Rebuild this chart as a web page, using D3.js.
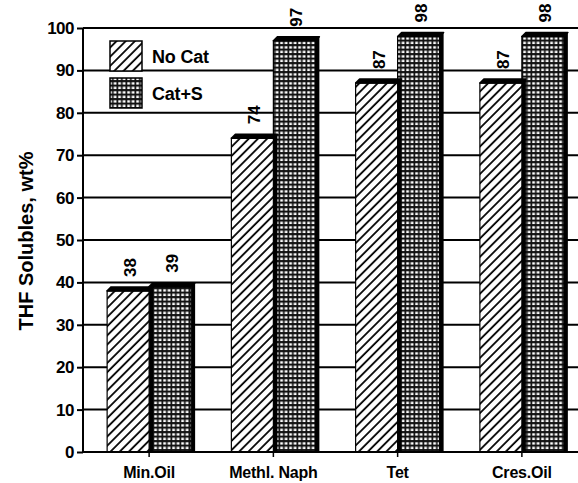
<!DOCTYPE html>
<html><head><meta charset="utf-8">
<script src="https://cdn.jsdelivr.net/npm/d3@7"></script>
<style>body{margin:0;background:#fff}svg{display:block}text{font-family:"Liberation Sans",Arial,sans-serif;font-weight:bold;fill:#000}</style>
</head><body><svg id="c" width="578" height="483"></svg>
<script>
const categories = ["Min.Oil", "Methl. Naph", "Tet", "Cres.Oil"];
const series = ["No Cat", "Cat+S"];
const noCat = [38, 74, 87, 87];
const catS = [39, 97, 98, 98];
const noCatLabels = ["38", "74", "87", "87"];
const catSLabels = ["39", "97", "98", "98"];
const yTicks = [0, 10, 20, 30, 40, 50, 60, 70, 80, 90, 100];
const yTitle = "THF Solubles, wt%";

const svg = d3.select("#c");
const L = 83, R = 578, T = 28, B = 452;
const y = d3.scaleLinear().domain([0, 100]).range([B, T]);
const x0 = d3.scaleBand().domain(categories).range([87, 584]);
const x1 = d3.scaleBand().domain(series).range([0, 84]);

const defs = svg.append("defs");
const hatch = defs.append("pattern").attr("id", "hatch").attr("patternUnits", "userSpaceOnUse")
  .attr("width", 6.5).attr("height", 6.5).attr("patternTransform", "rotate(45)");
hatch.append("rect").attr("width", 6.5).attr("height", 6.5).attr("fill", "#fff");
hatch.append("line").attr("x1", 1).attr("x2", 1).attr("y1", 0).attr("y2", 6.5).attr("stroke", "#000").attr("stroke-width", 1.8);
const grid = defs.append("pattern").attr("id", "grid").attr("patternUnits", "userSpaceOnUse")
  .attr("width", 4.5).attr("height", 4.5);
grid.append("rect").attr("width", 4.5).attr("height", 4.5).attr("fill", "#111");
grid.append("rect").attr("x", 1.2).attr("y", 1.2).attr("width", 2.8).attr("height", 2.4).attr("fill", "#fff");
const fills = {"No Cat": "url(#hatch)", "Cat+S": "url(#grid)"};

// gridlines
svg.append("g").selectAll("line").data(yTicks.filter(d => d > 0)).join("line")
  .attr("x1", L).attr("x2", R).attr("y1", d => y(d)).attr("y2", d => y(d))
  .attr("stroke", "#000").attr("stroke-width", 2);

// y axis
const ya = svg.append("g").attr("transform", `translate(${L},0)`)
  .call(d3.axisLeft(y).tickValues(yTicks).tickSize(6).tickPadding(3).tickFormat(d3.format("d")));
ya.select(".domain").attr("stroke-width", 2).attr("d", `M-0,${T}V${B}`);
ya.selectAll(".tick line").attr("stroke-width", 2);
ya.selectAll("text").style("font-size", "17px").style("font-weight", "bold").attr("fill", "#000")
  .attr("letter-spacing", "-0.5");

// bars
const rows = categories.map((c, i) => ({c, vals: [{s: "No Cat", v: noCat[i], lab: noCatLabels[i]}, {s: "Cat+S", v: catS[i], lab: catSLabels[i]}]}));
const dep = 4;
const g = svg.append("g");
rows.forEach(r => {
  const cx = x0(r.c) + x0.bandwidth() / 2 - 42;
  r.vals.slice().reverse().forEach(d => {
    const bx = cx + x1(d.s), bw = x1.bandwidth(), by = y(d.v);
    const gg = g.append("g");
    gg.append("path").attr("d", `M${bx + bw},${by}L${bx + bw + dep},${by - dep}L${bx + bw + dep},${B - 1}L${bx + bw},${B}Z`).attr("fill", "#000");
    gg.append("rect").attr("x", bx).attr("y", by).attr("width", bw).attr("height", B - by)
      .attr("fill", fills[d.s]).attr("stroke", "#000").attr("stroke-width", 1.2);
    gg.append("path").attr("d", `M${bx},${by}L${bx + dep},${by - dep}L${bx + bw + dep},${by - dep}L${bx + bw},${by}Z`)
      .attr("fill", "#000").attr("stroke", "#000").attr("stroke-width", 1.5).attr("stroke-linejoin", "round");
    g.append("text").attr("transform", `translate(${bx + bw / 2 + 2},${by - 14}) rotate(-90)`)
      .attr("dy", "0.35em").style("font-size", "17px").attr("text-anchor", "start").text(d.lab);
  });
});

// x axis
svg.append("line").attr("x1", L).attr("x2", R).attr("y1", B).attr("y2", B).attr("stroke", "#000").attr("stroke-width", 2);
const xa = svg.append("g").attr("transform", `translate(0,${B})`)
  .call(d3.axisBottom(x0).tickSize(5).tickPadding(10));
xa.select(".domain").remove();
xa.selectAll(".tick line").attr("stroke-width", 1.5);
xa.selectAll("text").style("font-size", "16px").style("font-weight", "bold").attr("fill", "#000").attr("letter-spacing", "-0.2");

// y title
svg.append("text").attr("transform", `translate(33,241) rotate(-90)`).attr("text-anchor", "middle")
  .style("font-size", "20px").text(yTitle);

// legend
const lg = svg.append("g");
series.forEach((s, i) => {
  const ly = 41 + i * 37;
  lg.append("rect").attr("x", 110).attr("y", ly).attr("width", 32).attr("height", 30)
    .attr("fill", fills[s]).attr("stroke", "#000").attr("stroke-width", 1.5);
  lg.append("text").attr("x", 152).attr("y", ly + 22).style("font-size", "18px").attr("letter-spacing", "-0.2").text(s);
});
</script></body></html>
